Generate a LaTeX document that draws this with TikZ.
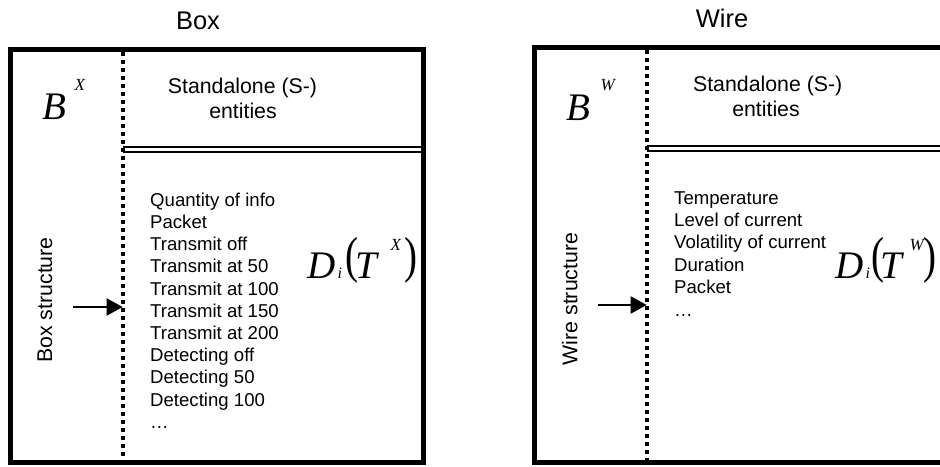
\documentclass[tikz,border=0pt]{standalone}
\usepackage{fontspec}
\usepackage{graphicx}
\setmainfont{Liberation Sans}
\newfontfamily\tnr{Liberation Serif}
\usetikzlibrary{arrows.meta}
\newcommand\putat[3]{\rlap{\hspace{#1}\raisebox{#2}{#3}}}
\newcommand\bigpar[1]{{\upshape\scalebox{1}[1.3]{#1}}}
\begin{document}
\begin{tikzpicture}[x=1pt,y=-1pt,
  frame/.style={line width=5pt},
  divider/.style={line width=4.2pt, dash pattern=on 4pt off 4pt},
  dbl/.style={line width=1.8pt},
  title/.style={font=\fontsize{25.5}{30}\selectfont, anchor=base, inner sep=0pt},
  label/.style={font=\fontsize{21.3}{25}\selectfont, anchor=base, inner sep=0pt},
  listtxt/.style={font=\fontsize{18.6}{22}\selectfont, anchor=base west, inner sep=0pt},
  mathtxt/.style={font=\tnr\itshape\fontsize{39}{39}\selectfont, anchor=base west, inner sep=0pt},
  ptr/.style={line width=2pt, -{Triangle[length=16pt,width=17pt]}}]
\useasboundingbox (0,0) rectangle (940,466);

% ---------- Box ----------
\node[title] (tbox) at (198,29.3) {Box};
\draw[frame] (10.8,49.7) rectangle (423.3,462.5);
\draw[divider] (122.7,52.2) -- (122.7,460);
\draw[dbl] (122.7,147) -- (420.8,147);
\draw[dbl] (122.7,152) -- (420.8,152);
\node[label] (sb1) at (242.5,93) {Standalone (S-)};
\node[label] (sb2) at (243,118) {entities};
\node[mathtxt] (bx) at (42,119) {\putat{0pt}{0pt}{B}\putat{32pt}{29pt}{\fontsize{17}{17}\selectfont X}};
\node[label, rotate=90] (bst) at (52,300) {Box structure};
\coordinate (ba0) at (73,307);
\coordinate (ba1) at (122.7,307);
\draw[ptr] (ba0) -- (ba1);
\foreach \t [count=\i] in {Quantity of info, Packet, Transmit off, Transmit at 50, Transmit at 100, Transmit at 150, Transmit at 200, Detecting off, Detecting 50, Detecting 100, …}
  \node[listtxt] (bl\i) at (150,{206.3+(\i-1)*22.2}) {\t};
\node[mathtxt] (dx) at (307,278) {\putat{0pt}{0pt}{D}\putat{30pt}{0pt}{\fontsize{16}{16}\selectfont i}\putat{38pt}{6pt}{\bigpar{(}}\putat{48pt}{0pt}{T}\putat{83pt}{28pt}{\fontsize{17}{17}\selectfont X}\putat{97pt}{6pt}{\bigpar{)}}};

% ---------- Wire ----------
\node[title] (twire) at (722,27.3) {Wire};
\draw[frame] (534,47.5) rectangle (960,462.5);
\draw[divider] (646.7,50) -- (646.7,460);
\draw[dbl] (646.7,145.7) -- (945,145.7);
\draw[dbl] (646.7,151) -- (945,151);
\node[label] (sw1) at (767.7,91.7) {Standalone (S-)};
\node[label] (sw2) at (766,116.7) {entities};
\node[mathtxt] (bw) at (566,120) {\putat{0pt}{0pt}{B}\putat{34pt}{30pt}{\fontsize{17}{17}\selectfont W}};
\node[label, rotate=90] (wst) at (577.3,299) {Wire structure};
\coordinate (wa0) at (598,305);
\coordinate (wa1) at (646.7,305);
\draw[ptr] (wa0) -- (wa1);
\foreach \t [count=\i] in {Temperature, Level of current, Volatility of current, Duration, Packet, …}
  \node[listtxt] (wl\i) at (674,{204+(\i-1)*22.4}) {\t};
\node[mathtxt] (dw) at (835,278) {\putat{0pt}{0pt}{D}\putat{30pt}{0pt}{\fontsize{16}{16}\selectfont i}\putat{36pt}{6pt}{\bigpar{(}}\putat{45pt}{0pt}{T}\putat{74pt}{28pt}{\fontsize{17}{17}\selectfont W}\putat{88pt}{6pt}{\bigpar{)}}};
\end{tikzpicture}
\end{document}
